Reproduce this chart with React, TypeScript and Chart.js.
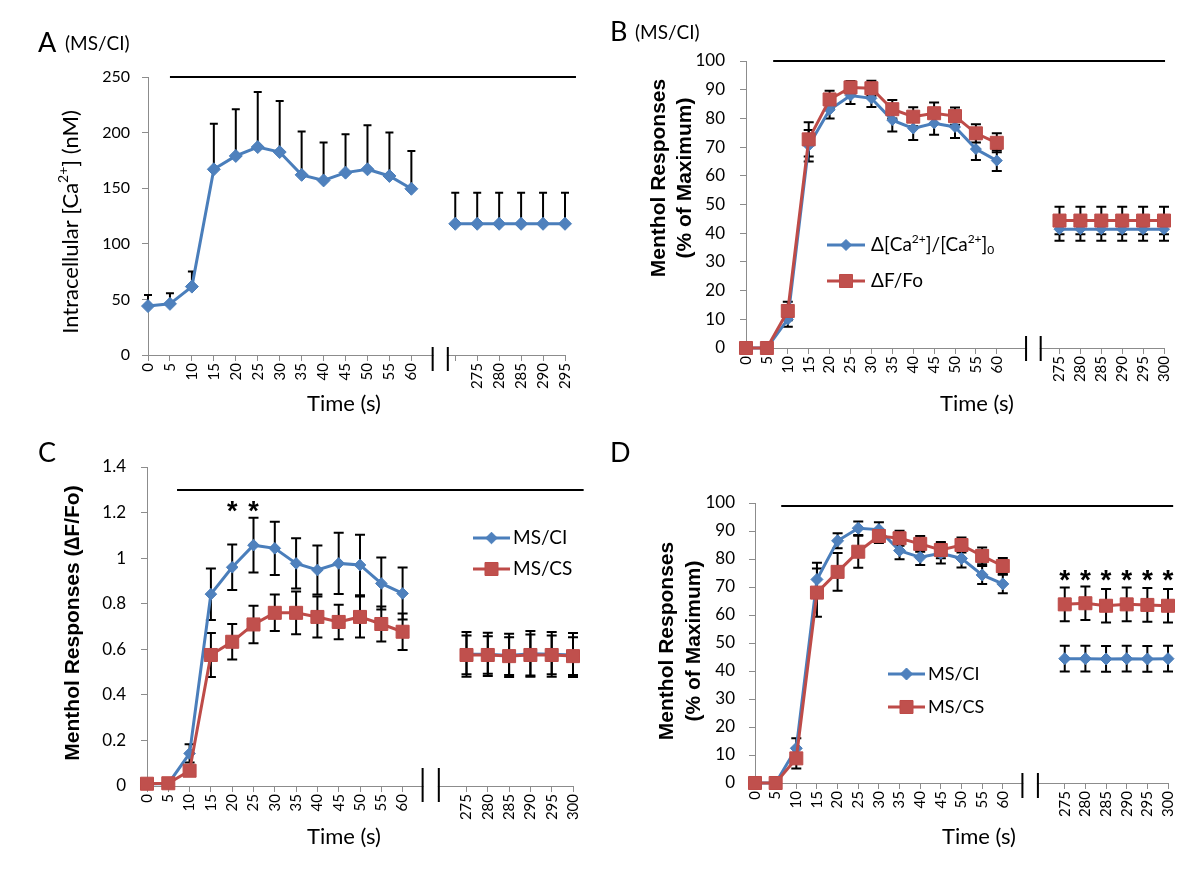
import { useEffect, useRef } from 'react';
import { Chart, registerables } from 'chart.js';

Chart.register(...registerables);

// ---------------- data ----------------
const earlyTimes = ['0', '5', '10', '15', '20', '25', '30', '35', '40', '45', '50', '55', '60'];
const timesA = [...earlyTimes, '', '', '275', '280', '285', '290', '295'];
const timesBCD = [...earlyTimes, '', '', '275', '280', '285', '290', '295', '300'];

// Panel A: intracellular [Ca2+] (nM), MS/CI
const caA = [44, 46, 61.5, 167, 179, 187, 182.5, 162, 157, 164, 167, 161, 149.5, null, 118, 118, 118, 118, 118, 118];
const caAErr = [10, 9.5, 13.5, 41, 42, 49.5, 46, 39, 34, 34.5, 39.5, 39, 34, null, 28, 28, 28, 28, 28, 28];

// Panel B: % of maximum, MS/CI
const caB = [0, 0, 10, 70.5, 83, 88, 87, 79.4, 76.5, 78.3, 77, 69.3, 65.3, null, null, 41.4, 41.4, 41.4, 41.4, 41.4, 41.4];
const caBErr = [0, 0, 2.6, 5.5, 3, 3, 3, 4, 4, 4, 3.8, 3.8, 3.6, null, null, 4, 4, 4, 4, 4, 4];
const dffB = [0, 0, 12.9, 72.7, 86.6, 90.8, 90.5, 83.2, 80.6, 81.8, 80.8, 74.8, 71.5, null, null, 44.4, 44.4, 44.4, 44.4, 44.4, 44.4];
const dffBErr = [0, 0, 3.2, 6, 3, 2.2, 2.6, 3.2, 3.3, 3.7, 3, 3.2, 3.3, null, null, 4.8, 4.8, 4.8, 4.8, 4.8, 4.8];

// Panel C: ΔF/Fo
const ciC = [0.01, 0.01, 0.143, 0.842, 0.96, 1.057, 1.043, 0.977, 0.948, 0.977, 0.97, 0.889, 0.845, null, null, 0.578, 0.578, 0.573, 0.58, 0.578, 0.575];
const ciCErr = [0, 0, 0.04, 0.113, 0.1, 0.12, 0.117, 0.11, 0.108, 0.134, 0.133, 0.114, 0.114, null, null, 0.098, 0.095, 0.095, 0.1, 0.098, 0.097];
const csC = [0.01, 0.012, 0.067, 0.575, 0.633, 0.709, 0.76, 0.76, 0.742, 0.72, 0.742, 0.711, 0.677, null, null, 0.575, 0.575, 0.57, 0.575, 0.575, 0.57];
const csCErr = [0, 0, 0.02, 0.097, 0.078, 0.082, 0.08, 0.094, 0.09, 0.076, 0.09, 0.077, 0.08, null, null, 0.085, 0.082, 0.083, 0.09, 0.085, 0.083];

// Panel D: % of maximum
const ciD = [0, 0, 12.4, 72.7, 86.5, 91, 90.5, 83, 80.6, 82, 80.2, 74.3, 71.1, null, null, 44.4, 44.4, 44.3, 44.4, 44.3, 44.4];
const ciDErr = [0, 0, 3.6, 6, 2.7, 2.4, 2.6, 3.1, 2.7, 3.6, 3.2, 3.2, 3.3, null, null, 4.6, 4.6, 4.6, 4.6, 4.6, 4.6];
const csD = [0, 0, 8.8, 68, 75.4, 82.6, 88.2, 87.4, 85.4, 83.2, 85, 81.1, 77.5, null, null, 63.8, 64.2, 63.3, 63.8, 63.6, 63.3];
const csDErr = [0, 0, 3.6, 8.6, 6.7, 5.7, 2.5, 2.7, 2.8, 2.9, 2.7, 3, 2.9, null, null, 6, 6, 6, 6, 6, 6];

// axis ranges [min, max, step]
const yRangeA = [0, 250, 50];
const yRangeB = [0, 100, 10];
const yRangeC = [0, 1.4, 0.2];
const yRangeD = [0, 100, 10];

// significance marks
const starTimesC = ['20', '25'];
const starLevelC = 1.237;
const starTimesD = ['275', '280', '285', '290', '295', '300'];
const starLevelD = 75;

// ---------------- styles ----------------
const BLUE_LINE = '#4A7EBB';
const BLUE_FILL = '#4F81BD';
const RED_LINE = '#BE4B48';
const RED_FILL = '#C0504D';
const AXIS_GRAY = '#8c8c8c';
const SANS = 'Lato, "Noto Sans", sans-serif';
const BOLD = '"Liberation Sans", Arial, sans-serif';

type Seg = { t: string; s?: 'sup' | 'sub' };

function segFont(size: number, fam: string, weight: string, s?: string) {
  return `${weight} ${s ? Math.round(size * 0.62) : size}px ${fam}`;
}
function richWidth(ctx: CanvasRenderingContext2D, segs: Seg[], size: number, fam: string, weight: string) {
  let w = 0;
  for (const g of segs) {
    ctx.font = segFont(size, fam, weight, g.s);
    w += ctx.measureText(g.t).width;
  }
  return w;
}
function drawRich(ctx: CanvasRenderingContext2D, segs: Seg[], x: number, y: number, size: number, fam: string, weight: string, align: 'left' | 'center') {
  const w = richWidth(ctx, segs, size, fam, weight);
  let cx = align === 'center' ? x - w / 2 : x;
  ctx.textAlign = 'left';
  ctx.textBaseline = 'middle';
  for (const g of segs) {
    ctx.font = segFont(size, fam, weight, g.s);
    const dy = g.s === 'sup' ? -size * 0.33 : g.s === 'sub' ? size * 0.28 : 0;
    ctx.fillText(g.t, cx, y + dy);
    cx += ctx.measureText(g.t).width;
  }
}

interface Series {
  name: Seg[];
  data: (number | null)[];
  err: (number | null)[];
  line: string;
  fill: string;
  style: 'rectRot' | 'rect';
  radius: number;
  order: number;
}
interface Panel {
  left: number; top: number; w: number; h: number;
  area: { l: number; r: number; t: number; b: number };
  labels: string[];
  yRange: number[];
  yTickSize: number; xTickSize: number; yPad: number;
  yFmt?: (v: number) => string;
  hide: number[];
  series: Series[];
  errBoth: boolean; cap: number;
  topLine: { from: number; to: number; value: number };
  brk: { a: number; b: number; up: number; down: number };
  letter: { t: string; x: number; y: number };
  sub?: { t: string; x: number; y: number };
  yTitle: { lines: Seg[][]; xs: number[]; yc: number; fam: string; weight: string; size: number };
  xTitle: { x: number; y: number };
  legend?: { x0: number; x1: number; tx: number; ys: number[]; size: number };
  stars?: { times: string[]; level: number; size: number };
}

const blueCI = (name: Seg[], data: (number | null)[], err: (number | null)[], radius: number): Series => ({
  name, data, err, line: BLUE_LINE, fill: BLUE_FILL, style: 'rectRot', radius, order: 1,
});
const redCS = (name: Seg[], data: (number | null)[], err: (number | null)[], radius: number): Series => ({
  name, data, err, line: RED_LINE, fill: RED_FILL, style: 'rect', radius, order: 0,
});

const pctTitle: Seg[][] = [[{ t: 'Menthol Responses' }], [{ t: '(% of Maximum)' }]];

const panels: Panel[] = [
  {
    left: 0, top: 0, w: 600, h: 430,
    area: { l: 148, r: 565, t: 77, b: 355 },
    labels: timesA, yRange: yRangeA, yTickSize: 16, xTickSize: 15, yPad: 12,
    hide: [13],
    series: [blueCI([{ t: 'MS/CI' }], caA, caAErr, 6.5)],
    errBoth: false, cap: 4,
    topLine: { from: 1.0, to: 19.5, value: 250 },
    brk: { a: 12.97, b: 13.66, up: 8, down: 16 },
    letter: { t: 'A', x: 38, y: 52 },
    sub: { t: '(MS/CI)', x: 65, y: 50 },
    yTitle: { lines: [[{ t: 'Intracellular [Ca' }, { t: '2+', s: 'sup' }, { t: '] (nM)' }]], xs: [71], yc: 222, fam: SANS, weight: 'normal', size: 22 },
    xTitle: { x: 344, y: 404 },
  },
  {
    left: 600, top: 0, w: 600, h: 430,
    area: { l: 146, r: 564, t: 61, b: 348 },
    labels: timesBCD, yRange: yRangeB, yTickSize: 17, xTickSize: 15, yPad: 15,
    hide: [13, 14],
    series: [
      blueCI([{ t: 'Δ[Ca' }, { t: '2+', s: 'sup' }, { t: ']/[Ca' }, { t: '2+', s: 'sup' }, { t: ']' }, { t: '0', s: 'sub' }], caB, caBErr, 5.5),
      redCS([{ t: 'ΔF/Fo' }], dffB, dffBErr, 9.2),
    ],
    errBoth: true, cap: 5,
    topLine: { from: 1.3, to: 20.05, value: 100 },
    brk: { a: 13.4, b: 14.1, up: 12, down: 13 },
    letter: { t: 'B', x: 10, y: 41 },
    sub: { t: '(MS/CI)', x: 35, y: 39 },
    yTitle: { lines: pctTitle, xs: [59, 85], yc: 178, fam: BOLD, weight: 'bold', size: 21 },
    xTitle: { x: 377, y: 404 },
    legend: { x0: 227, x1: 265, tx: 271, ys: [245, 281], size: 19 },
  },
  {
    left: 0, top: 430, w: 600, h: 441,
    area: { l: 147, r: 573, t: 37, b: 356 },
    labels: timesBCD, yRange: yRangeC, yTickSize: 17, xTickSize: 15, yPad: 15,
    yFmt: (v: number) => String(Math.round(v * 10) / 10),
    hide: [13, 14],
    series: [
      blueCI([{ t: 'MS/CI' }], ciC, ciCErr, 5.8),
      redCS([{ t: 'MS/CS' }], csC, csCErr, 9.2),
    ],
    errBoth: true, cap: 5,
    topLine: { from: 1.41, to: 20.5, value: 1.3 },
    brk: { a: 12.94, b: 13.7, up: 18, down: 16 },
    letter: { t: 'C', x: 38, y: 32 },
    yTitle: { lines: [[{ t: 'Menthol Responses (∆F/Fo)' }]], xs: [73], yc: 193, fam: BOLD, weight: 'bold', size: 21 },
    xTitle: { x: 344, y: 407 },
    legend: { x0: 473, x1: 510, tx: 513, ys: [108, 139], size: 19 },
    stars: { times: starTimesC, level: starLevelC, size: 27 },
  },
  {
    left: 600, top: 430, w: 600, h: 441,
    area: { l: 155, r: 568, t: 73, b: 353 },
    labels: timesBCD, yRange: yRangeD, yTickSize: 17, xTickSize: 15, yPad: 14,
    hide: [13, 14],
    series: [
      blueCI([{ t: 'MS/CI' }], ciD, ciDErr, 6),
      redCS([{ t: 'MS/CS' }], csD, csDErr, 9.2),
    ],
    errBoth: true, cap: 5,
    topLine: { from: 1.27, to: 20.25, value: 99 },
    brk: { a: 12.95, b: 13.7, up: 10, down: 15 },
    letter: { t: 'D', x: 10, y: 32 },
    yTitle: { lines: pctTitle, xs: [67, 94], yc: 211, fam: BOLD, weight: 'bold', size: 21 },
    xTitle: { x: 379, y: 407 },
    legend: { x0: 288, x1: 325, tx: 328, ys: [244, 277], size: 18 },
    stars: { times: starTimesD, level: starLevelD, size: 28 },
  },
];

function drawMarker(ctx: CanvasRenderingContext2D, s: Series, cx: number, cy: number) {
  ctx.fillStyle = s.fill;
  ctx.strokeStyle = s.line;
  ctx.lineWidth = 1;
  ctx.beginPath();
  if (s.style === 'rectRot') {
    const r = s.radius;
    ctx.moveTo(cx, cy - r);
    ctx.lineTo(cx + r, cy);
    ctx.lineTo(cx, cy + r);
    ctx.lineTo(cx - r, cy);
    ctx.closePath();
  } else {
    const h = s.radius * Math.SQRT1_2;
    ctx.rect(cx - h, cy - h, 2 * h, 2 * h);
  }
  ctx.fill();
  ctx.stroke();
}

function decoPlugin(p: Panel) {
  return {
    id: 'deco',
    beforeDatasetsDraw(chart: any) {
      const ctx: CanvasRenderingContext2D = chart.ctx;
      const ys = chart.scales.y;
      ctx.save();
      ctx.strokeStyle = '#000';
      ctx.lineWidth = 2;
      p.series.forEach((s, di) => {
        const meta = chart.getDatasetMeta(di);
        s.data.forEach((v, i) => {
          const e = s.err[i];
          if (v == null || e == null || e <= 0) return;
          const x = meta.data[i].x;
          const yTop = ys.getPixelForValue(v + e);
          const yBot = ys.getPixelForValue(p.errBoth ? v - e : v);
          ctx.beginPath();
          ctx.moveTo(x, yTop);
          ctx.lineTo(x, yBot);
          ctx.moveTo(x - p.cap, yTop);
          ctx.lineTo(x + p.cap, yTop);
          if (p.errBoth) {
            ctx.moveTo(x - p.cap, yBot);
            ctx.lineTo(x + p.cap, yBot);
          }
          ctx.stroke();
        });
      });
      ctx.restore();
    },
    afterDraw(chart: any) {
      const ctx: CanvasRenderingContext2D = chart.ctx;
      const xs = chart.scales.x;
      const ys = chart.scales.y;
      const area = chart.chartArea;
      ctx.save();

      // top horizontal bar (menthol application)
      ctx.strokeStyle = '#000';
      ctx.lineWidth = 2;
      const ly = Math.round(ys.getPixelForValue(p.topLine.value));
      ctx.beginPath();
      ctx.moveTo(xs.getPixelForValue(p.topLine.from), ly);
      ctx.lineTo(xs.getPixelForValue(p.topLine.to), ly);
      ctx.stroke();

      // axis break
      const xa = xs.getPixelForValue(p.brk.a);
      const xb = xs.getPixelForValue(p.brk.b);
      const ay = area.bottom;
      ctx.fillStyle = '#fff';
      ctx.fillRect(xa + 1, ay - 2, xb - xa - 2, 4);
      ctx.strokeStyle = '#000';
      ctx.lineWidth = 2;
      ctx.beginPath();
      ctx.moveTo(xa, ay - p.brk.up);
      ctx.lineTo(xa, ay + p.brk.down);
      ctx.moveTo(xb, ay - p.brk.up);
      ctx.lineTo(xb, ay + p.brk.down);
      ctx.stroke();

      ctx.fillStyle = '#000';
      // panel letter
      ctx.textAlign = 'left';
      ctx.textBaseline = 'alphabetic';
      ctx.font = `normal 27px ${SANS}`;
      ctx.fillText(p.letter.t, p.letter.x, p.letter.y);
      if (p.sub) {
        ctx.font = `normal 19px ${SANS}`;
        ctx.fillText(p.sub.t, p.sub.x, p.sub.y);
      }

      // y title
      p.yTitle.lines.forEach((ln, k) => {
        ctx.save();
        ctx.translate(p.yTitle.xs[k], p.yTitle.yc);
        ctx.rotate(-Math.PI / 2);
        ctx.fillStyle = '#000';
        drawRich(ctx, ln, 0, 0, p.yTitle.size, p.yTitle.fam, p.yTitle.weight, 'center');
        ctx.restore();
      });

      // x title
      ctx.fillStyle = '#000';
      drawRich(ctx, [{ t: 'Time (s)' }], p.xTitle.x, p.xTitle.y, 22, SANS, 'normal', 'center');

      // legend
      if (p.legend) {
        const L = p.legend;
        p.series.forEach((s, k) => {
          const y = L.ys[k];
          ctx.strokeStyle = s.line;
          ctx.lineWidth = 3;
          ctx.beginPath();
          ctx.moveTo(L.x0, y);
          ctx.lineTo(L.x1, y);
          ctx.stroke();
          drawMarker(ctx, s, (L.x0 + L.x1) / 2, y);
          ctx.fillStyle = '#000';
          drawRich(ctx, s.name, L.tx, y, L.size, SANS, 'normal', 'left');
        });
      }

      // significance stars
      if (p.stars) {
        const st = p.stars;
        ctx.fillStyle = '#000';
        ctx.font = `bold ${st.size}px ${BOLD}`;
        ctx.textAlign = 'center';
        ctx.textBaseline = 'alphabetic';
        const yc = ys.getPixelForValue(st.level);
        st.times.forEach((t) => {
          const idx = p.labels.indexOf(t);
          const x = xs.getPixelForValue(idx);
          ctx.fillText('*', x, yc + st.size * 0.58);
        });
      }
      ctx.restore();
    },
  };
}

function buildChart(canvas: HTMLCanvasElement, p: Panel) {
  const tickCol = (c: any) => (p.hide.includes(c.index) ? 'rgba(0,0,0,0)' : AXIS_GRAY);
  const datasets = p.series.map((s) => ({
    label: s.name.map((g) => g.t).join(''),
    data: s.data,
    borderColor: s.line,
    backgroundColor: s.fill,
    pointBackgroundColor: s.fill,
    pointBorderColor: s.line,
    pointBorderWidth: 1,
    pointStyle: s.style,
    pointRadius: s.radius,
    pointHoverRadius: s.radius,
    borderWidth: 3,
    tension: 0,
    spanGaps: false,
    fill: false,
    clip: false as any,
    order: s.order,
  }));
  const [yMin, yMax, yStep] = p.yRange;
  return new Chart(canvas, {
    type: 'line',
    data: { labels: p.labels, datasets },
    options: {
      responsive: false,
      animation: false,
      devicePixelRatio: 1,
      events: [],
      layout: { padding: { left: 0, top: p.area.t, right: p.w - p.area.r, bottom: 0 }, autoPadding: false } as any,
      plugins: { legend: { display: false }, tooltip: { enabled: false }, title: { display: false } },
      scales: {
        x: {
          type: 'category',
          offset: false,
          grid: { display: true, drawOnChartArea: false, drawTicks: true, tickLength: 6, color: tickCol, tickColor: tickCol, lineWidth: 1 },
          border: { display: true, color: AXIS_GRAY, width: 1 },
          ticks: { autoSkip: false, minRotation: 90, maxRotation: 90, padding: 2, color: '#000', font: { family: SANS, size: p.xTickSize } },
          afterFit: (s: any) => { s.height = p.h - p.area.b; },
        },
        y: {
          type: 'linear',
          min: yMin,
          max: yMax,
          grid: { display: true, drawOnChartArea: false, drawTicks: true, tickLength: 6, color: AXIS_GRAY, lineWidth: 1 },
          border: { display: true, color: AXIS_GRAY, width: 1 },
          ticks: {
            stepSize: yStep,
            padding: p.yPad,
            color: '#000',
            font: { family: SANS, size: p.yTickSize },
            callback: (v: any) => (p.yFmt ? p.yFmt(Number(v)) : String(v)),
          },
          afterFit: (s: any) => { s.width = p.area.l; },
        },
      },
    } as any,
    plugins: [decoPlugin(p)],
  });
}

function PanelChart({ p }: { p: Panel }) {
  const ref = useRef<HTMLCanvasElement>(null);
  useEffect(() => {
    if (!ref.current) return;
    const chart = buildChart(ref.current, p);
    return () => chart.destroy();
  }, [p]);
  return (
    <canvas
      ref={ref}
      width={p.w}
      height={p.h}
      style={{ position: 'absolute', left: p.left, top: p.top, width: p.w, height: p.h, display: 'block' }}
    />
  );
}

export default function App() {
  return (
    <div style={{ position: 'absolute', left: 0, top: 0, width: 1200, height: 871, background: '#fff', overflow: 'hidden' }}>
      {panels.map((p, i) => (
        <PanelChart key={i} p={p} />
      ))}
    </div>
  );
}
